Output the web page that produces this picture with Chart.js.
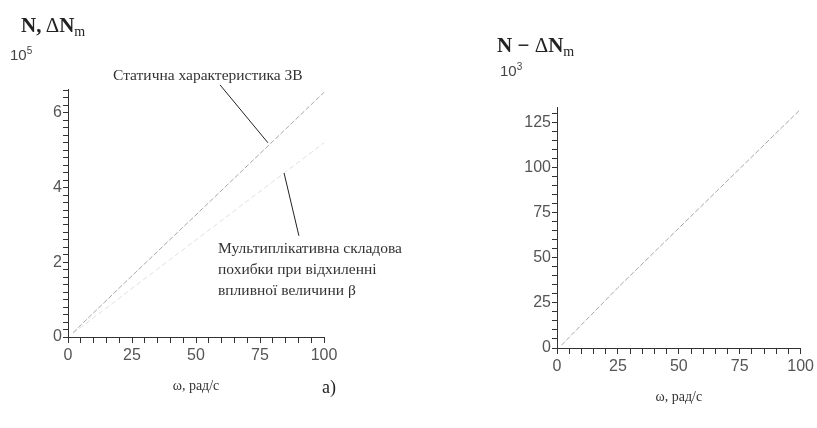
<!DOCTYPE html>
<html>
<head>
<meta charset="utf-8">
<script src="https://cdn.jsdelivr.net/npm/chart.js@4/dist/chart.umd.min.js"></script>
<style>
    body { margin: 0; background: #fff; width: 817px; height: 428px; position: relative; overflow: hidden; }
    canvas { position: absolute; top: 0; }
    .txt { position: absolute; white-space: nowrap; color: #222; }
    .serif { font-family: 'Liberation Serif', 'DejaVu Serif', serif; }
    .sans { font-family: 'Liberation Sans', Arial, sans-serif; }
    .ttl { font-weight: bold; font-size: 21px; }
    .ttl sub { font-weight: normal; font-size: 14px; vertical-align: -4px; }
    .exp { font-size: 15px; color: #444; }
    .exp sup { font-size: 10px; vertical-align: 6px; }
    .note { font-size: 15.5px; color: #333; line-height: 21px; }
</style>
</head>
<body>
<canvas id="left" width="400" height="428" style="left:0"></canvas>
<canvas id="right" width="397" height="428" style="left:420px"></canvas>

<div class="txt serif ttl" style="left:21px; top:13px">N,&thinsp;<span style="font-weight:normal">&Delta;</span>N<sub>m</sub></div>
<div class="txt sans exp" style="left:10px; top:45px">10<sup>5</sup></div>
<div class="txt serif ttl" style="left:497px; top:33px">N &minus; <span style="font-weight:normal">&Delta;</span>N<sub>m</sub></div>
<div class="txt sans exp" style="left:500px; top:61px">10<sup>3</sup></div>

<div class="txt serif note" style="left:113px; top:64px">Статична характеристика ЗВ</div>
<div class="txt serif note" style="left:218px; top:237px">Мультиплікативна складова<br>похибки при відхиленні<br>впливної величини β</div>
<div class="txt serif" style="left:322px; top:377px; font-size:18px; color:#222">а)</div>

<script>
// ω, рад/с
const omega = [2, 25, 50, 75, 100];
// N, 10^5 — статична характеристика ЗВ
const staticN = [0.12, 1.64, 3.27, 4.91, 6.55];
// ΔN_m, 10^5 — мультиплікативна складова похибки
const multDeltaN = [0.1, 1.3, 2.6, 3.9, 5.2];
// N − ΔN_m, 10^3
const diffOmega = [1.8, 25, 50, 75, 100];
const diffN = [1.5, 33.5, 66.5, 99.5, 132.5];

// leader lines of the two notes, in data units [ω, N]
const leaderStatic = [[59.4, 6.75], [78.1, 5.2]];
const leaderMult = [[84.4, 4.39], [90.2, 2.71]];

const tickFont = { family: "'Liberation Sans Narrow', 'Liberation Sans', Arial, sans-serif", size: 16 };
const axisColor = '#333';

const leaderPlugin = {
    id: 'leaders',
    afterDatasetsDraw(chart, args, opts) {
        if (!opts.lines) return;
        const ctx = chart.ctx;
        const xs = chart.scales.x, ys = chart.scales.y;
        ctx.save();
        ctx.strokeStyle = '#222';
        ctx.lineWidth = 1;
        opts.lines.forEach(l => {
            ctx.beginPath();
            ctx.moveTo(xs.getPixelForValue(l[0][0]), ys.getPixelForValue(l[0][1]));
            ctx.lineTo(xs.getPixelForValue(l[1][0]), ys.getPixelForValue(l[1][1]));
            ctx.stroke();
        });
        ctx.restore();
    }
};

function isMultiple(v, step) {
    return Math.abs(v / step - Math.round(v / step)) < 1e-6;
}

function makeChart(id, datasets, yMax, yStep, yLabelStep, yWidth, padding, leaders) {
    return new Chart(document.getElementById(id), {
        type: 'line',
        data: { datasets },
        options: {
            responsive: false,
            animation: false,
            layout: { padding },
            plugins: { legend: { display: false }, tooltip: { enabled: false }, leaders: { lines: leaders } },
            elements: { point: { radius: 0 }, line: { borderWidth: 1, tension: 0 } },
            scales: {
                x: {
                    type: 'linear', min: 0, max: 100,
                    border: { color: axisColor, width: 1 },
                    grid: { drawOnChartArea: false, drawTicks: true, tickLength: 6, tickColor: axisColor },
                    ticks: {
                        stepSize: 5, includeBounds: false, autoSkip: false, maxRotation: 0, padding: 3,
                        color: '#555', font: tickFont,
                        callback: v => isMultiple(v, 25) ? String(v) : ''
                    },
                    title: {
                        display: true, text: 'ω, рад/с', color: '#333', padding: { top: 1 },
                        font: { family: "'Liberation Serif', serif", size: 14 }
                    },
                    afterFit: s => { s.height = 62; }
                },
                y: {
                    type: 'linear', min: 0, max: yMax,
                    border: { color: axisColor, width: 1 },
                    grid: { drawOnChartArea: false, drawTicks: true, tickLength: 5, tickColor: axisColor },
                    ticks: {
                        stepSize: yStep, includeBounds: false, autoSkip: false, padding: 1,
                        color: '#555', font: tickFont,
                        callback: v => isMultiple(v, yLabelStep) ? String(Math.round(v)) : ''
                    },
                    afterFit: s => { s.width = yWidth; }
                }
            }
        },
        plugins: [leaderPlugin]
    });
}

makeChart('left', [
    {
        label: 'N',
        data: omega.map((w, i) => ({ x: w, y: staticN[i] })),
        borderColor: '#a8a8a8', borderDash: [5, 2]
    },
    {
        label: 'ΔN_m',
        data: omega.map((w, i) => ({ x: w, y: multDeltaN[i] })),
        borderColor: '#e0e0e0', borderDash: [5, 3]
    }
], 6.64, 0.2, 2, 40, { left: 28, right: 76, top: 89, bottom: 29 }, [leaderStatic, leaderMult]);

makeChart('right', [
    {
        label: 'N − ΔN_m',
        data: diffOmega.map((w, i) => ({ x: w, y: diffN[i] })),
        borderColor: '#a8a8a8', borderDash: [5, 2]
    }
], 133.7, 5, 25, 40, { left: 97, right: 0, top: 107, bottom: 18 }, null);
</script>
</body>
</html>
